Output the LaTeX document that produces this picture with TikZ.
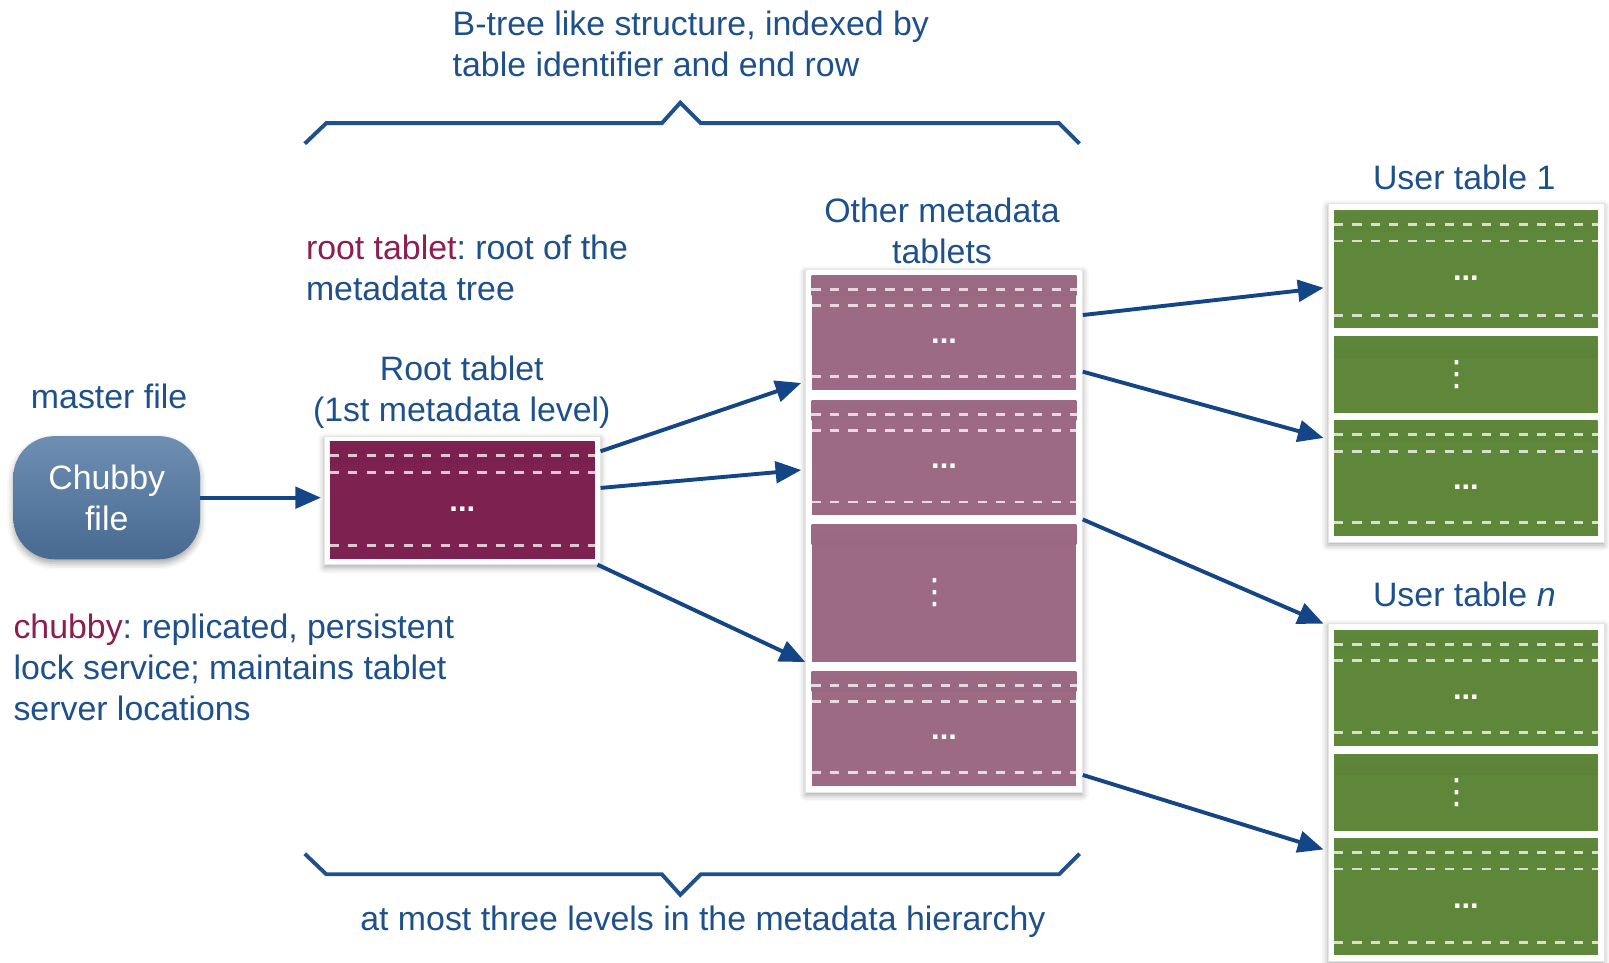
\documentclass[tikz,border=0pt]{standalone}
\usepackage{fontspec}
\setmainfont{Liberation Sans}
\newfontfamily\symfont{DejaVu Sans}
\usetikzlibrary{arrows.meta, shadows.blur}

\definecolor{textblue}{RGB}{30,80,140}
\definecolor{textred}{RGB}{140,30,80}
\definecolor{linkblue}{RGB}{20,70,135}
\definecolor{roottab}{RGB}{125,33,80}
\definecolor{metatab}{RGB}{157,106,132}
\definecolor{usertab}{RGB}{95,135,58}
\definecolor{chubtop}{RGB}{110,142,178}
\definecolor{chubbot}{RGB}{72,106,144}

\newcommand{\vdotmark}{\hspace*{-18pt}{\symfont ⋮}}

\tikzset{
  caption/.style={inner sep=0pt, text=textblue, font=\fontsize{33}{40}\selectfont},
  brace/.style={draw=textblue, line width=3.8pt, line join=miter},
  link/.style={draw=linkblue, line width=3.8pt, -{Triangle[length=25pt, width=21pt]}},
  frame/.style={fill=white, draw=black!10, line width=0.5pt, inner sep=0pt,
    blur shadow={shadow xshift=0pt, shadow yshift=-3pt, shadow blur radius=6pt, shadow opacity=35}},
  tablet/.style={minimum width=258pt, inner sep=0pt, text=white, fill=#1,
    path picture={\shade[top color=#1, bottom color=#1!86!black]
      (path picture bounding box.north west) rectangle ([yshift=-20pt]path picture bounding box.north east);}},
  hdots/.style={font=\fontsize{30}{30}\bfseries\selectfont, text height=22pt, text depth=0pt},
  vdots/.style={font=\fontsize{34}{34}\selectfont},
  rowline/.style={draw=white, draw opacity=0.75, line width=2.8pt, dash pattern=on 9pt off 9pt},
  rows/.style={append after command={
    ([yshift=-14pt]\tikzlastnode.north west) edge[rowline] ([yshift=-14pt]\tikzlastnode.north east)
    ([yshift=-30pt]\tikzlastnode.north west) edge[rowline] ([yshift=-30pt]\tikzlastnode.north east)
    ([yshift=13pt]\tikzlastnode.south west) edge[rowline] ([yshift=13pt]\tikzlastnode.south east)
  }},
  chubby/.style={rounded corners=40pt, minimum width=182pt, minimum height=120pt, inner sep=0pt,
    top color=chubtop, bottom color=chubbot, text=white, align=center,
    font=\fontsize{33}{40}\selectfont,
    blur shadow={shadow xshift=0pt, shadow yshift=-4pt, shadow blur radius=6pt, shadow opacity=35}}
}

\begin{document}
\frenchspacing
\begin{tikzpicture}[x=1pt, y=-1pt]
\useasboundingbox (0,0) rectangle (1568,938);

% braces
\draw[brace] (297,140) -- (318,120) -- (645,120) -- (663,100) -- (683,120) -- (1032,120) -- (1052,140);
\draw[brace] (297,832) -- (318,852) -- (645,852) -- (663,872) -- (683,852) -- (1032,852) -- (1052,832);
\node[caption, anchor=north west, align=left] (btree) at (441,10) {B-tree like structure, indexed by\\table identifier and end row};
\node[caption, anchor=north] (levels) at (685,883) {at most three levels in the metadata hierarchy};

% chubby
\node[caption, anchor=north west] (master) at (30,374) {master file};
\node[chubby] (chubby) at (104,485) {Chubby\\file};
\node[caption, anchor=north west, align=left] (chubnote) at (13,598) {\textcolor{textred}{chubby}: replicated, persistent\\lock service; maintains tablet\\server locations};

% root tablet
\node[caption, anchor=north west, align=left] (rootnote) at (298,229) {\textcolor{textred}{root tablet}: root of the\\metadata tree};
\node[caption, anchor=north, align=center] (roottitle) at (450,347) {Root tablet\\(1st metadata level)};
\node[frame, minimum width=269pt, minimum height=125pt] (rootframe) at (450.5,487.5) {};
\node[tablet=roottab, rows, hdots, minimum height=114pt] (root) at (rootframe) {...};

% other metadata tablets
\node[caption, anchor=north, align=center] (metatitle) at (918,193) {Other metadata\\tablets};
\node[frame, minimum width=270pt, minimum height=510pt] (metaframe) at (920,517) {};
\node[tablet=metatab, rows, hdots, minimum height=112pt] (meta1) at (920,324) {...};
\node[tablet=metatab, rows, hdots, minimum height=112pt] (meta2) at (920,446) {...};
\node[tablet=metatab, vdots, minimum height=134pt] (meta3) at (920,578) {\vdotmark};
\node[tablet=metatab, rows, hdots, minimum height=112pt] (meta4) at (920,710) {...};

% user table 1
\node[caption, anchor=north] (u1title) at (1427,161) {User table 1};
\node[frame, minimum width=269pt, minimum height=330pt] (u1frame) at (1428.5,363) {};
\node[tablet=usertab, rows, hdots, minimum width=257pt, minimum height=115pt] (u1a) at (1428.5,262.5) {...};
\node[tablet=usertab, vdots, minimum width=257pt, minimum height=74pt] (u1b) at (1428.5,365) {\vdotmark};
\node[tablet=usertab, rows, hdots, minimum width=257pt, minimum height=112pt] (u1c) at (1428.5,466) {...};

% user table n
\node[caption, anchor=north] (untitle) at (1427,567) {User table \textit{n}};
\node[frame, minimum width=269pt, minimum height=330pt] (unframe) at (1428.5,772) {};
\node[tablet=usertab, rows, hdots, minimum width=257pt, minimum height=113pt] (una) at (1428.5,670.5) {...};
\node[tablet=usertab, vdots, minimum width=257pt, minimum height=75pt] (unb) at (1428.5,772.5) {\vdotmark};
\node[tablet=usertab, rows, hdots, minimum width=257pt, minimum height=114pt] (unc) at (1428.5,874) {...};

% links
\draw[link, shorten >=3pt] (chubby.east) -- (chubby.east -| rootframe.west);
\draw[link] ([yshift=-15pt]rootframe.north east) -- ([xshift=-10pt,yshift=7pt]meta1.south west);
\draw[link] ([yshift=12pt]rootframe.east) -- ([xshift=-10pt,yshift=-12pt]meta2.west);
\draw[link] ([xshift=-3pt]rootframe.south east) -- ([xshift=-6pt]meta3.south west);
\draw[link] ([xshift=6pt,yshift=17pt]meta1.east) -- ([xshift=-10pt,yshift=-18pt]u1a.west);
\draw[link] ([xshift=6pt,yshift=18pt]meta1.south east) -- ([xshift=-10pt,yshift=-17pt]u1c.north west);
\draw[link] ([xshift=6pt,yshift=-4pt]meta2.south east) -- ([xshift=-4pt,yshift=-1pt]unframe.north west);
\draw[link] ([xshift=6pt,yshift=11pt]meta4.south east) -- ([xshift=-10pt,yshift=-11pt]unc.north west);
\end{tikzpicture}
\end{document}
